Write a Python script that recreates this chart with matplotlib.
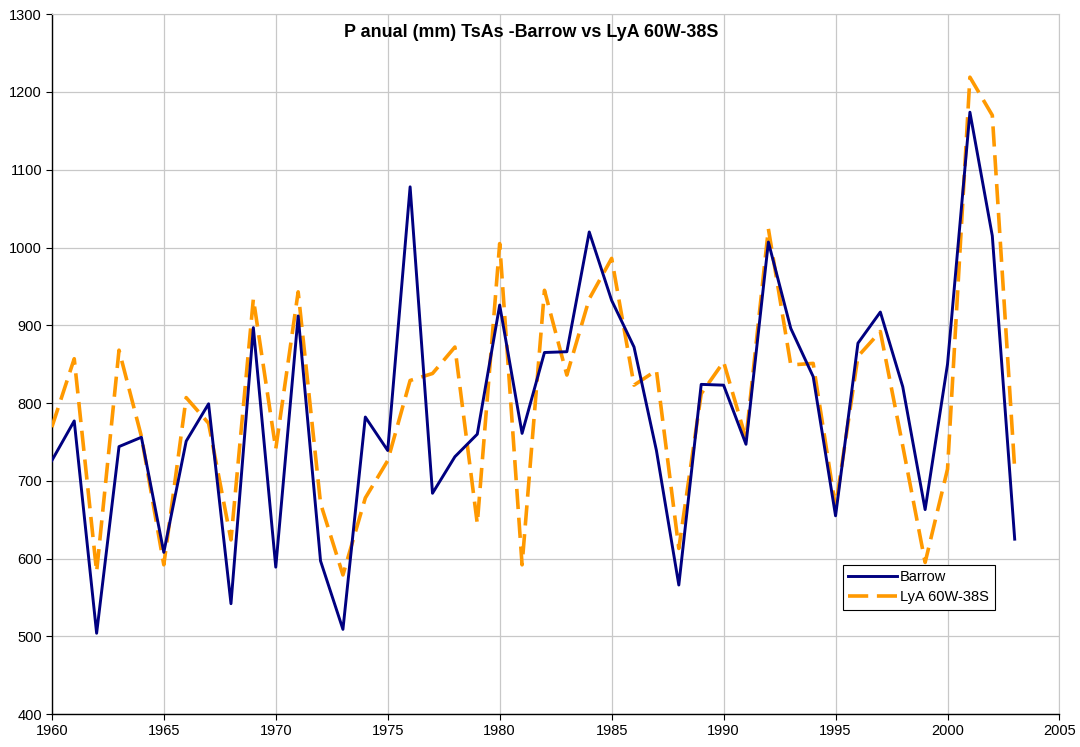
import numpy as np
import matplotlib
matplotlib.use("Agg")
import matplotlib.pyplot as plt

plt.rcParams["font.family"] = ["Liberation Sans", "DejaVu Sans"]

# Annual precipitation (mm), 1960-2003
years = list(range(1960, 2004))

barrow = [726, 777, 504, 744, 756, 608, 751, 799, 542, 897,
          589, 912, 597, 509, 782, 739, 1078, 684, 731, 760,
          926, 761, 865, 866, 1020, 932, 872, 739, 566, 824,
          823, 747, 1007, 896, 834, 655, 877, 917, 821, 663,
          850, 1174, 1015, 625]

lya = [769, 857, 583, 868, 757, 592, 807, 774, 624, 934,
       741, 943, 671, 579, 678, 726, 829, 838, 872, 645,
       1005, 592, 945, 836, 934, 986, 823, 842, 613, 812,
       853, 754, 1024, 849, 851, 666, 860, 892, 745, 595,
       715, 1219, 1170, 715]

x_ticks = list(range(1960, 2006, 5))
y_ticks = list(range(400, 1301, 100))

fig = plt.figure(figsize=(10.8, 7.47), dpi=100)
ax = fig.add_axes([0.048, 0.044, 0.933, 0.937])

ax.plot(years, lya, color="#FF9900", linewidth=2.6, linestyle=(0, (5.6, 2.4)),
        label="LyA 60W-38S", zorder=3)
ax.plot(years, barrow, color="#000080", linewidth=2.1,
        label="Barrow", zorder=4)

ax.set_xlim(1960, 2005)
ax.set_ylim(400, 1300)
ax.set_xticks(x_ticks)
ax.set_yticks(y_ticks)
ax.tick_params(direction="out", length=4, width=0.8, labelsize=10.5,
               colors="black", pad=3)
ax.grid(True, color="#C8C8C8", linewidth=0.9)
ax.set_axisbelow(True)

for side in ("top", "right"):
    ax.spines[side].set_color("#C8C8C8")
for side in ("left", "bottom"):
    ax.spines[side].set_color("black")
    ax.spines[side].set_linewidth(1.0)

fig.text(0.4917, 0.956, "P anual (mm) TsAs -Barrow vs LyA 60W-38S",
         fontsize=12.9, fontweight="bold", ha="center", va="center")

handles, labels = ax.get_legend_handles_labels()
leg = ax.legend(handles[::-1], labels[::-1], loc="lower left",
                bbox_to_anchor=(0.7847, 0.1486, 0.1518, 0.0643), mode="expand",
                fontsize=10.5, frameon=True, fancybox=False, framealpha=1,
                edgecolor="black", handlelength=3.35, borderpad=0.4,
                labelspacing=0.4, handletextpad=0.2, borderaxespad=0)
leg.get_frame().set_linewidth(0.8)

fig.savefig("out.png", dpi=100)
